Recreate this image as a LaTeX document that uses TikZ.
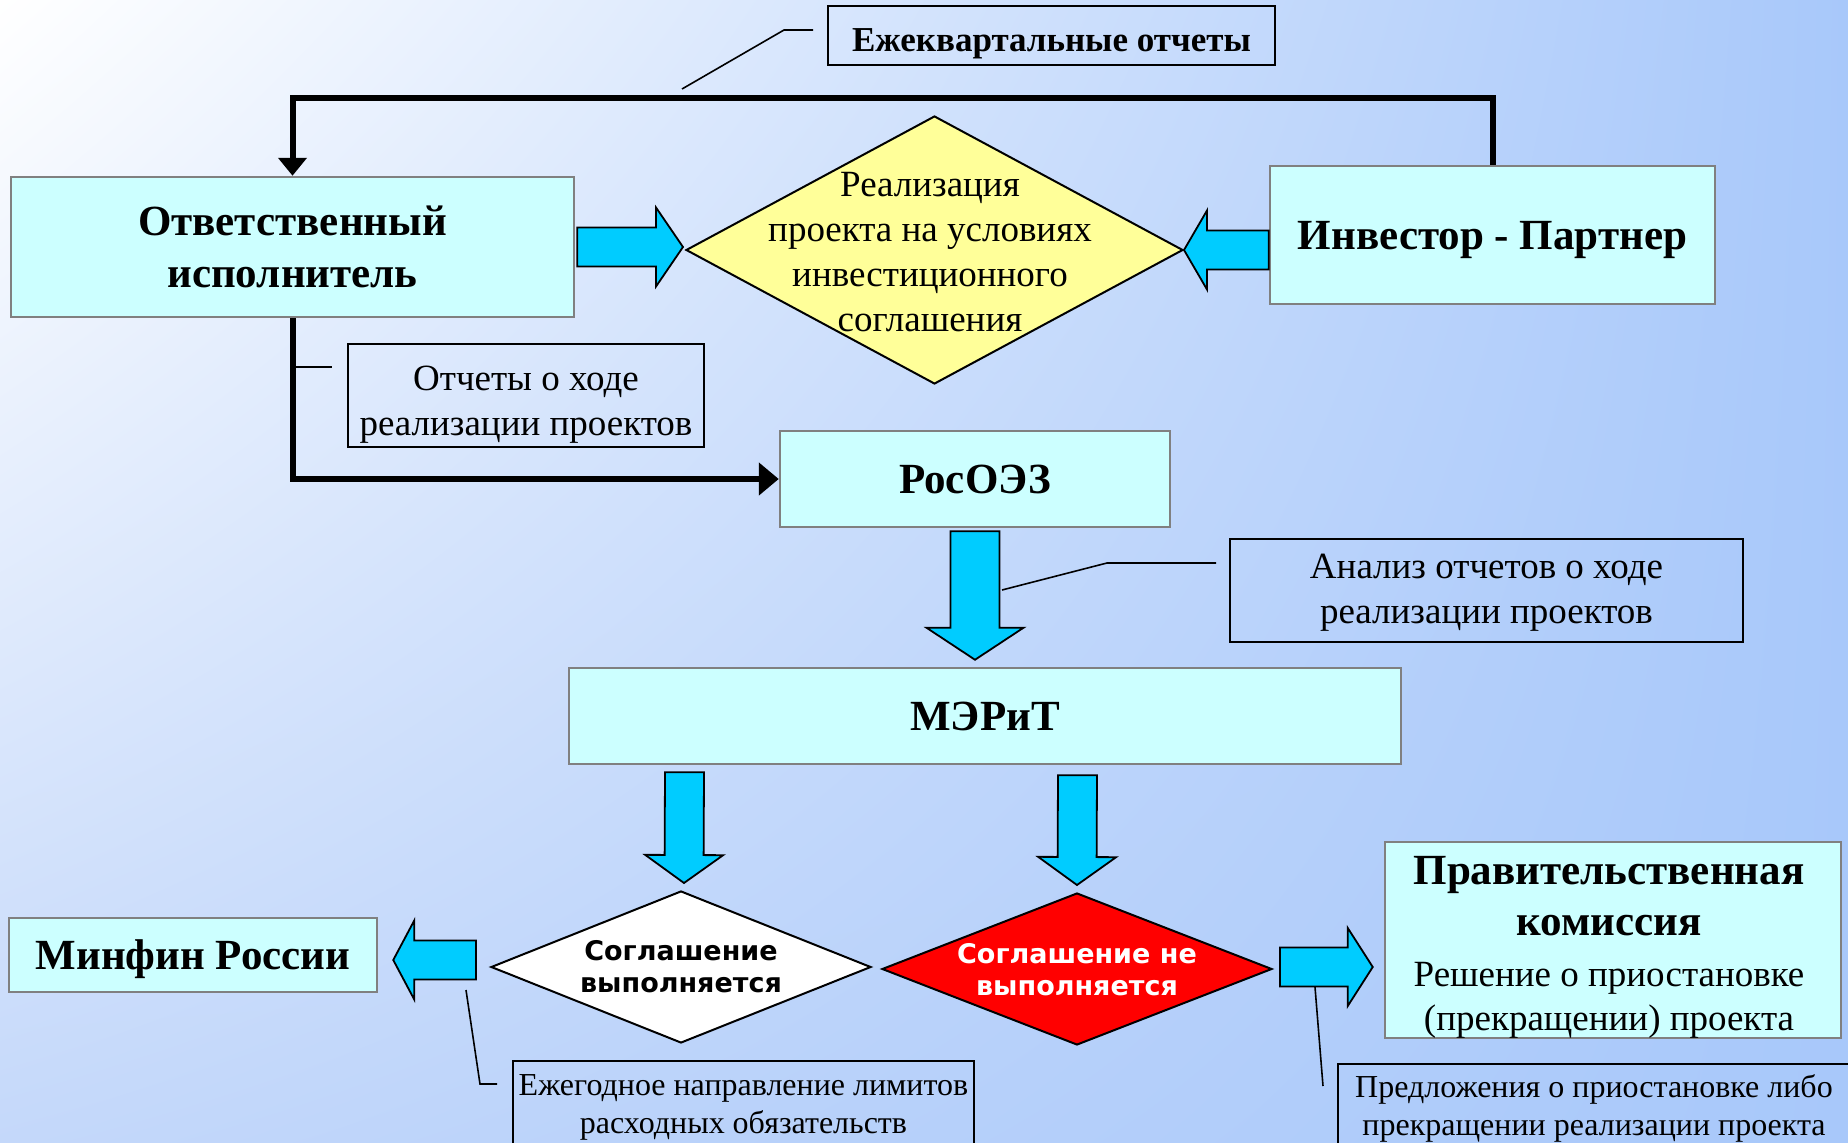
\documentclass[tikz,border=0pt]{standalone}
\usepackage{fontspec}
\setmainfont{Liberation Serif}
\newfontfamily\dvsans{DejaVu Sans}
\usetikzlibrary{calc,arrows.meta,shapes.geometric,shadings}

\definecolor{boxfill}{RGB}{204,255,255}
\definecolor{boxline}{RGB}{128,128,128}
\definecolor{arrowblue}{RGB}{0,204,255}
\definecolor{yell}{RGB}{255,255,153}
\definecolor{bgR}{RGB}{168,200,250}
\definecolor{bgL}{RGB}{196,216,250}

% block arrow: #1 from, #2 tip, #3 shaft half width, #4 head half width, #5 head length
\newcommand\blkarrow[5]{%
  \path[blockarrow] let \p1=(#1), \p2=(#2),
     \n1={atan2(\y2-\y1,\x2-\x1)},
     \n2={veclen(\x2-\x1,\y2-\y1)-#5} in
   (\p1) -- ($(\p1)+(\n1+90:#3pt)$)
   -- ($(\p1)+(\n1+90:#3pt)+(\n1:\n2)$)
   -- ($(\p1)+(\n1+90:#4pt)+(\n1:\n2)$)
   -- (\p2)
   -- ($(\p1)+(\n1-90:#4pt)+(\n1:\n2)$)
   -- ($(\p1)+(\n1-90:#3pt)+(\n1:\n2)$)
   -- ($(\p1)+(\n1-90:#3pt)$) -- cycle;}

\newcommand\PB{\fontsize{43}{49}\selectfont\bfseries}
\newcommand\PN{\fontsize{37}{47}\selectfont\mdseries}

\begin{document}
\begin{tikzpicture}[x=1pt,y=-1pt,
  box/.style={draw=boxline, line width=2.5pt, fill=boxfill, inner sep=0pt, align=center},
  callout/.style={draw=black, line width=2pt, inner sep=0pt, align=center},
  blockarrow/.style={draw=black, line width=1.8pt, fill=arrowblue, line join=miter},
  flow/.style={line width=6pt, line join=miter},
  leader/.style={line width=1.6pt},
  diam/.style={diamond, draw=black, line width=2pt, inner sep=0pt},
  bigbold/.style={font=\fontsize{43}{52}\selectfont\bfseries},
  normaltext/.style={font=\fontsize{37}{45}\selectfont, align=center},
  smalltext/.style={font=\fontsize{32}{38}\selectfont},
  sanstext/.style={font=\fontsize{27}{32}\selectfont\dvsans\bfseries, align=center}
]
\useasboundingbox (0,0) rectangle (1848,1143);
\clip (0,0) rectangle (1848,1143);
\shade[upper left=white, upper right=bgR, lower left=bgL, lower right=bgR] (0,0) rectangle (1848,1143);

% main nodes
\node[box, bigbold, minimum width=563pt, minimum height=140pt] (otv) at (292.5,247) {Ответственный\\исполнитель};
\node[box, bigbold, text depth=0pt, minimum width=445pt, minimum height=138pt] (inv) at (1492.5,235) {Инвестор - Партнер};
\node[diam, fill=yell, minimum width=497pt, minimum height=268pt] (real) at (934.5,250) {};
\node[normaltext] (realtxt) at (930,252) {Реализация\\проекта на условиях\\инвестиционного\\соглашения};
\node[box, bigbold, minimum width=390pt, minimum height=96pt] (ros) at (975,479) {РосОЭЗ};
\node[box, bigbold, minimum width=832pt, minimum height=96pt] (mer) at (985,716) {МЭРиТ};
\node[diam, fill=white, minimum width=380pt, minimum height=152pt] (yes) at (681,967) {};
\node[sanstext] (yestxt) at (681,967) {Соглашение\\выполняется};
\node[diam, fill=red, minimum width=390pt, minimum height=152pt] (no) at (1077,969) {};
\node[sanstext, text=white] (notxt) at (1077,970) {Соглашение не\\выполняется};
\node[box, bigbold, text depth=0pt, minimum width=368pt, minimum height=74pt] (minfin) at (193,955) {Минфин России};
\node[box, minimum width=456pt, minimum height=196pt] (prav) at (1613,940) {};
\node[font=\fontsize{37}{47}\selectfont, align=center] (pravtxt) at (1609,947.5)
  {\PB Правительственная\\[4pt]\PB комиссия\\[4pt]\PN Решение о приостановке\\[-3pt]\PN (прекращении) проекта};

% callout boxes
\node[callout, font=\fontsize{35}{40}\selectfont\bfseries, text height=31pt, text depth=0pt, minimum width=447pt, minimum height=59pt] (kv) at (1051.5,35.5) {Ежеквартальные отчеты};
\node[callout, minimum width=356pt, minimum height=103pt] (otch) at (526,395.5) {};
\node[normaltext] (otchtxt) at (526,404.5) {Отчеты о ходе\\реализации проектов};
\node[callout, minimum width=513pt, minimum height=103pt] (anal) at (1486.5,590.5) {};
\node[normaltext] (analtxt) at (1486.5,593) {Анализ отчетов о ходе\\реализации проектов};
\node[callout, smalltext, minimum width=461pt, minimum height=92pt, anchor=north] (ezhe) at (743.5,1060) {Ежегодное направление лимитов\\расходных обязательств};
\node[callout, smalltext, minimum width=512pt, minimum height=88pt, anchor=north] (pred) at (1594,1063) {Предложения о приостановке либо\\прекращении реализации проекта};

% flow lines
\coordinate (loopy) at (0,98);
\draw[flow, -{Triangle[width=28pt,length=18pt]}] (inv.north) -- (inv.north |- loopy) -- (otv.north |- loopy) -- (otv.north);
\draw[flow, -{Triangle[width=32pt,length=20pt]}] (otv.south) -- (otv.south |- ros.west) -- (ros.west);

% block arrows
\blkarrow{$(otv.east)+(2,0)$}{$(otv.east -| real.west)+(-2,0)$}{19.5}{39.5}{27}
\blkarrow{inv.west |- real.east}{real.east}{19.5}{39.5}{23}
\blkarrow{$(ros.south)+(0,3)$}{$(ros.south |- mer.north)+(0,-7)$}{24.5}{48.5}{32}
\blkarrow{$(yes.north |- mer.south)+(3.5,7)$}{$(yes.north)+(3,-7)$}{19.5}{39}{28}
\blkarrow{$(no.north |- mer.south)+(0.5,10)$}{$(no.north)+(0,-7)$}{19.5}{39}{28}
\blkarrow{$(yes.west)+(-14,-7)$}{$(minfin.east)+(15,5)$}{19.5}{39.5}{21}
\blkarrow{$(no.east)+(7,-2)$}{$(prav.west |- no.east)+(-11,-2)$}{19.5}{39}{25}

% leader lines
\coordinate (kvA) at (682,89);
\coordinate (kvB) at (784,30);
\coordinate (kvC) at (813,30);
\draw[leader] (kvA) -- (kvB) -- (kvC);
\coordinate (otA) at (293,367);
\coordinate (otB) at (332,367);
\draw[leader] (otA) -- (otB);
\coordinate (anA) at (1002,590);
\coordinate (anB) at (1107,563);
\coordinate (anC) at (1216,563);
\draw[leader] (anA) -- (anB) -- (anC);
\coordinate (ezA) at (466,990);
\coordinate (ezB) at (480,1084);
\coordinate (ezC) at (497,1084);
\draw[leader] (ezA) -- (ezB) -- (ezC);
\coordinate (prA) at (1315,987);
\coordinate (prB) at (1323,1086);
\draw[leader] (prA) -- (prB);
\end{tikzpicture}
\end{document}
